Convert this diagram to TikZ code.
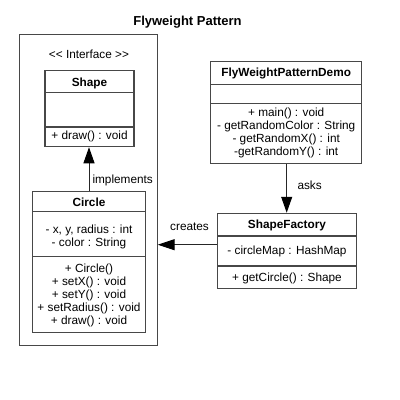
\documentclass[tikz,border=0pt]{standalone}
\usepackage{fontspec}
\setmainfont{Liberation Sans}
\usetikzlibrary{arrows.meta}
\begin{document}
\begin{tikzpicture}[x=1pt,y=-1pt,
  cls/.style={draw=black!72,line width=1.1pt,fill=white,inner sep=0pt,rectangle},
  sep/.style={draw=black!72,line width=1.1pt},
  txt/.style={font=\fontsize{11.8}{13}\selectfont,anchor=base,inner sep=0pt,align=center},
  ttl/.style={font=\fontsize{11.8}{13}\selectfont\bfseries,anchor=base,inner sep=0pt},
  conn/.style={draw=black!85,line width=1pt,-{Triangle[length=16pt,width=11pt,fill=black,color=black]}}
]
\useasboundingbox (0,0) rectangle (400,400);
\fill[white] (0,0) rectangle (400,400);

\node[font=\fontsize{13}{15}\selectfont\bfseries,anchor=base,inner sep=0pt] (title) at (187.5,25) {Flyweight Pattern};

% container
\node[cls,minimum width=137.7pt,minimum height=311.7pt] (cont) at (88.2,189.9) {};
\node[txt] (iface) at (89,58.5) {{<}{<} Interface {>}{>}};

% Shape
\node[cls,minimum width=89pt,minimum height=76pt] (shape) at (89.5,108.7) {};
\draw[sep] (45,92.7) -- (134,92.7);
\draw[sep] (45,127) -- (134,127);
\node[ttl] (shapet) at (89.5,86) {Shape};
\node[txt] (shapem) at (89.5,139.5) {+ draw() : void};

% Circle
\node[cls,minimum width=113.4pt,minimum height=140.6pt] (circle) at (89,262) {};
\draw[sep] (32.3,211.3) -- (145.7,211.3);
\draw[sep] (32.3,256.3) -- (145.7,256.3);
\node[ttl] (circlet) at (89,206) {Circle};
\node[txt] (circlea) at (89,246) {- x, y, radius : int\\- color : String};
\node[txt] (circlem) at (89,324.5) {+ Circle()\\+ setX() : void\\+ setY() : void\\+ setRadius() : void\\+ draw() : void};

% Demo
\node[cls,minimum width=151pt,minimum height=101.6pt] (demo) at (286.2,112.5) {};
\draw[sep] (210.7,84.3) -- (361.7,84.3);
\draw[sep] (210.7,103.3) -- (361.7,103.3);
\node[ttl] (demot) at (286.2,76.5) {FlyWeightPatternDemo};
\node[txt,font=\fontsize{11.8}{13.2}\selectfont] (demom) at (286.2,155.6) {+ main() : void\\- getRandomColor : String\\- getRandomX() : int\\-getRandomY() : int};

% Factory
\node[cls,minimum width=139.4pt,minimum height=75pt] (factory) at (287,250.8) {};
\draw[sep] (217.3,236) -- (356.7,236);
\draw[sep] (217.3,266) -- (356.7,266);
\node[ttl] (factoryt) at (287,228.8) {ShapeFactory};
\node[txt] (factorya) at (287,254.5) {- circleMap : HashMap};
\node[txt] (factorym) at (287,281) {+ getCircle() : Shape};

% connectors
\draw[conn] (circle.north) -- (circle.north |- shape.south);
\node[txt,anchor=base west] (impl) at (92.3,183) {implements};

\draw[conn] (demo.south -| 286.7,0) -- (factory.north -| 286.7,0);
\node[txt,anchor=base west] (asks) at (297.3,189) {asks};

\coordinate (cr) at (217.3,244.7);
\draw[conn,-{Triangle[length=17pt,width=11pt,fill=black,color=black]}] (cr) -- (cr -| cont.east);
\node[txt,anchor=base west] (creates) at (170,230.5) {creates};
\end{tikzpicture}
\end{document}
